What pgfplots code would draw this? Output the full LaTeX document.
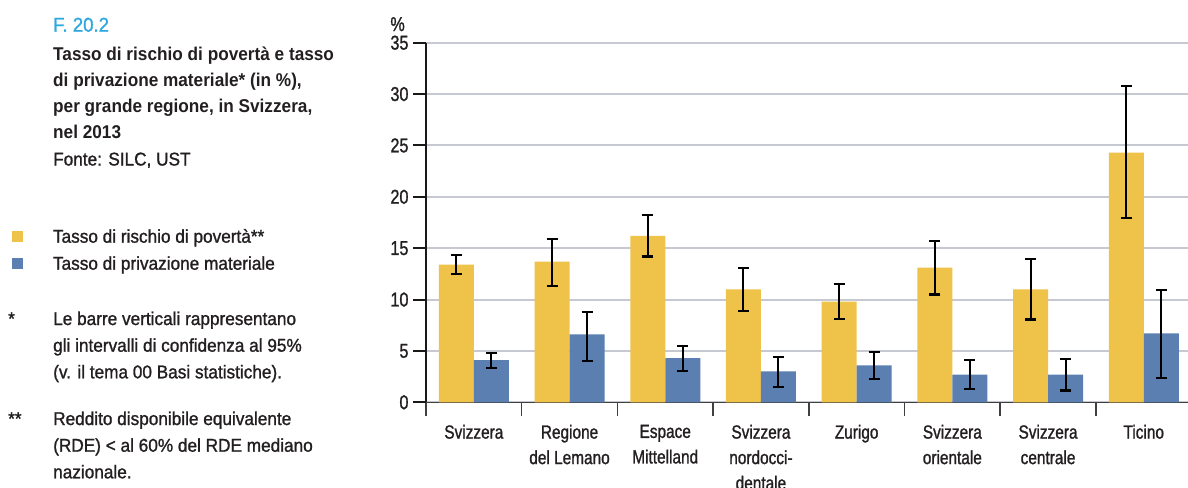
\documentclass[border=0pt]{standalone}
\usepackage{fontspec}
\setmainfont{Liberation Sans}[FakeStretch=0.93, UprightFeatures={FakeBold=1.2}]
\newfontfamily\axisfont{Liberation Sans}[FakeStretch=0.81, FakeBold=1.2]
\usepackage{pgfplots}
\pgfplotsset{compat=1.18}
\definecolor{byellow}{HTML}{EFC24A}
\definecolor{bblue}{HTML}{5B7FB1}
\definecolor{gridc}{HTML}{C6C8D2}
\definecolor{txt}{HTML}{231F20}
\definecolor{fblue}{HTML}{2FA8E0}
\newcommand\fs{\fontsize{18.5bp}{25bp}\selectfont}
\begin{document}
\begin{tikzpicture}
\useasboundingbox (0,0) rectangle (1188bp,-488bp);
% left text panel
\tikzset{lt/.style={anchor=base west, inner sep=0pt, text=txt, font=\fs}}
\node[lt, text=fblue, font=\fontsize{20bp}{24bp}\selectfont] at (53bp,-31.7bp) {F. 20.2};
\node[lt, font=\fs\bfseries] at (53bp,-60bp) {Tasso di rischio di povertà e tasso};
\node[lt, font=\fs\bfseries] at (53bp,-86.2bp) {di privazione materiale* (in \%),};
\node[lt, font=\fs\bfseries] at (53bp,-112.2bp) {per grande regione, in Svizzera,};
\node[lt, font=\fs\bfseries] at (53bp,-138.3bp) {nel 2013};
\node[lt] at (53bp,-165.5bp) {Fonte: SILC, UST};
\node[lt] at (8bp,-325bp) {*};
\node[lt] at (53bp,-325bp) {Le barre verticali rappresentano};
\node[lt] at (53bp,-351.7bp) {gli intervalli di confidenza al 95\%};
\node[lt] at (53bp,-378.3bp) {(v. il tema 00 Basi statistiche).};
\node[lt] at (8bp,-425bp) {**};
\node[lt] at (53bp,-425bp) {Reddito disponibile equivalente};
\node[lt] at (53bp,-451.7bp) {(RDE) < al 60\% del RDE mediano};
\node[lt] at (53bp,-478.3bp) {nazionale.};
\begin{axis}[
  at={(426bp,-402.3bp)}, anchor=south west,
  scale only axis, width=765.6bp, height=359.6bp,
  xmin=-0.5, xmax=7.5, ymin=0, ymax=35,
  ybar=0pt, bar width=35bp,
  axis x line=bottom, axis y line=left,
  axis line style={-},
  x axis line style={draw=black!75, line width=1.5bp},
  y axis line style={draw=black!90, line width=2bp},
  ytick={0,5,...,35},
  ymajorgrids, major grid style={gridc, line width=2bp},
  xtick={0,...,7},
  xticklabels={Svizzera, {Regione\\del Lemano}, {Espace\\Mittelland}, {Svizzera\\nordocci-\\dentale}, Zurigo, {Svizzera\\orientale}, {Svizzera\\centrale}, Ticino},
  minor xtick={-0.5,0.5,...,7.5},
  tick align=outside,
  major tick length=13bp, minor tick length=14bp,
  major x tick style={draw=none},
  minor x tick style={draw=black!75, line width=1.5bp},
  major y tick style={draw=black!90, line width=2bp},
  /pgf/number format/assume math mode=true,
  ticklabel style={font=\axisfont\fontsize{20bp}{25bp}\selectfont, text=txt},
  yticklabel style={xshift=-1bp},
  xticklabel style={align=center, yshift=-6bp, font=\axisfont\fontsize{19bp}{25.5bp}\selectfont},
  ylabel={\%},
  ylabel style={rotate=-90, at={(axis description cs:-0.0274,1.0325)}, anchor=base east, inner sep=0pt, font=\axisfont\fontsize{20bp}{22bp}\selectfont, text=txt},
  error bars/y dir=both, error bars/y explicit,
  error bars/error bar style={line width=2bp, black},
  error bars/error mark options={rotate=90, mark size=5.5bp, line width=2.2bp, black},
  legend image code/.code={\fill[#1,draw=none] (0bp,0.5bp) rectangle (11bp,11.5bp); \path[draw=none,fill=none] (0bp,0bp) -- (41bp,0bp);},
  legend style={at={(axis description cs:-0.54075,0.48136)}, anchor=north west, draw=none, fill=none, inner sep=0pt, outer sep=0pt, row sep=0pt, font=\fs, text=txt, nodes={inner sep=0pt, text height=13.5bp, text depth=13.5bp}},
  legend cell align=left,
]
\addplot[fill=byellow, draw=none] coordinates {
 (0,13.4) += (0,0.9) -= (0,0.95)
 (1,13.7) += (0,2.2) -= (0,2.4)
 (2,16.2) += (0,2.0) -= (0,2.0)
 (3,11.0) += (0,2.1) -= (0,2.1)
 (4,9.8) += (0,1.7) -= (0,1.7)
 (5,13.1) += (0,2.6) -= (0,2.6)
 (6,11.0) += (0,2.95) -= (0,2.95)
 (7,24.3) += (0,6.5) -= (0,6.35)
};
\addplot[fill=bblue, draw=none] coordinates {
 (0,4.1) += (0,0.73) -= (0,0.76)
 (1,6.6) += (0,2.2) -= (0,2.55)
 (2,4.3) += (0,1.18) -= (0,1.25)
 (3,3.0) += (0,1.38) -= (0,1.48)
 (4,3.6) += (0,1.3) -= (0,1.33)
 (5,2.7) += (0,1.4) -= (0,1.4)
 (6,2.7) += (0,1.5) -= (0,1.55)
 (7,6.7) += (0,4.2) -= (0,4.35)
};
\legend{Tasso di rischio di povertà**, Tasso di privazione materiale}
\end{axis}
\end{tikzpicture}
\end{document}
